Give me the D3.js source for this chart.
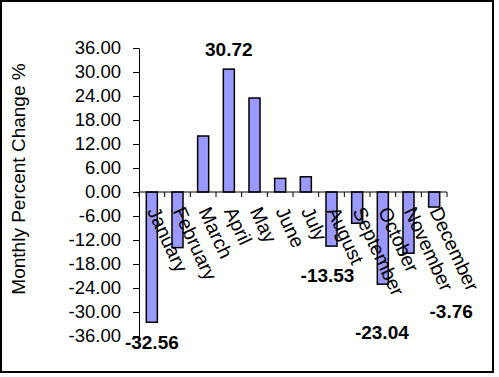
<!DOCTYPE html>
<html>
<head>
<meta charset="utf-8">
<script src="https://cdn.jsdelivr.net/npm/d3@7"></script>
<style>
  html, body { margin: 0; padding: 0; background: #fff; }
  svg { display: block; font-family: "Liberation Sans", Arial, sans-serif; }
</style>
</head>
<body>
<svg id="chart" width="499" height="377"></svg>
<script>
// Monthly percent change, column chart
const months = ["January", "February", "March", "April", "May", "June",
  "July", "August", "September", "October", "November", "December"];
const pctChange = [-32.56, -13.9, 14.0, 30.72, 23.5, 3.4,
  3.8, -13.53, -7.8, -23.04, -15.3, -3.76];
const yTicks = [36, 30, 24, 18, 12, 6, 0, -6, -12, -18, -24, -30, -36];
const labelledMonths = ["January", "April", "August", "October", "December"];

// hand-placed data labels (dx, dy from the bar end), as in the original
const labelNudge = {
  January: [0, 27],
  April: [0, -13],
  August: [-4, 36],
  October: [-1, 55],
  December: [17, 111]
};

const svg = d3.select("#chart");
const width = 499, height = 377;

// outer frame
svg.append("rect")
  .attr("x", 1).attr("y", 1)
  .attr("width", 492).attr("height", 371)
  .attr("fill", "#fff")
  .attr("stroke", "#000")
  .attr("stroke-width", 2);

const x = d3.scaleBand()
  .domain(months)
  .range([139, 447]);

const y = d3.scaleLinear()
  .domain([-36, 36])
  .range([336, 48]);

const g = svg.append("g");

// Y axis
const yAxis = g.append("g")
  .attr("transform", "translate(139,0)")
  .call(d3.axisLeft(y)
    .tickValues(yTicks)
    .tickFormat(d => d.toFixed(2))
    .tickSize(6)
    .tickPadding(12));
yAxis.select(".domain").attr("stroke", "#000").attr("stroke-width", 1);
yAxis.selectAll(".tick line").attr("stroke", "#000");
yAxis.selectAll(".tick text")
  .attr("fill", "#000")
  .style("font-size", "18.5px")
  .style("font-family", "Liberation Sans, Arial, sans-serif");

// Bars
const barW = x.bandwidth() * 0.43;
g.selectAll("rect.bar")
  .data(months.map((m, i) => ({ month: m, value: pctChange[i] })))
  .join("rect")
  .attr("class", "bar")
  .attr("x", d => x(d.month) + (x.bandwidth() - barW) / 2)
  .attr("y", d => Math.min(y(d.value), y(0)))
  .attr("width", barW)
  .attr("height", d => Math.abs(y(d.value) - y(0)))
  .attr("fill", "#9999ff")
  .attr("stroke", "#000")
  .attr("stroke-width", 1.5);

// X axis line at zero, ticks at category boundaries pointing down
const x0 = x.range()[0], x1 = x.range()[1];
g.append("line")
  .attr("x1", x0).attr("x2", x1)
  .attr("y1", y(0)).attr("y2", y(0))
  .attr("stroke", "#000");
g.selectAll("line.xtick")
  .data(d3.range(months.length + 1))
  .join("line")
  .attr("class", "xtick")
  .attr("x1", i => x0 + i * x.step())
  .attr("x2", i => x0 + i * x.step())
  .attr("y1", y(0))
  .attr("y2", y(0) + 5)
  .attr("stroke", "#000");

// Category labels, rotated
g.selectAll("text.cat")
  .data(months)
  .join("text")
  .attr("class", "cat")
  .attr("transform", d => `translate(${x(d) + x.bandwidth() / 2 - 5},${y(0) + 19}) rotate(65)`)
  .attr("text-anchor", "start")
  .style("font-size", "19.5px")
  .attr("fill", "#000")
  .text(d => d);

// Data labels
g.selectAll("text.val")
  .data(labelledMonths)
  .join("text")
  .attr("class", "val")
  .attr("x", m => x(m) + x.bandwidth() / 2 + labelNudge[m][0])
  .attr("y", m => y(pctChange[months.indexOf(m)]) + labelNudge[m][1])
  .attr("text-anchor", "middle")
  .style("font-size", "19px")
  .style("font-weight", "bold")
  .attr("fill", "#000")
  .text(m => pctChange[months.indexOf(m)].toFixed(2));

// Y axis title
g.append("text")
  .attr("transform", "translate(25,179) rotate(-90)")
  .attr("text-anchor", "middle")
  .style("font-size", "19px")
  .attr("fill", "#000")
  .text("Monthly Percent Change %");
</script>
</body>
</html>
